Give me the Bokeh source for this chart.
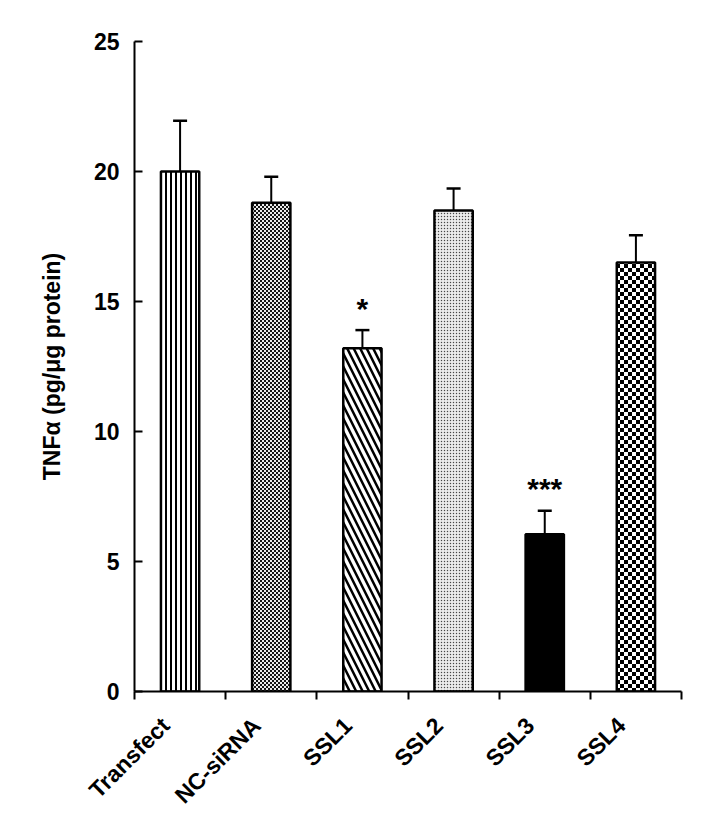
import base64, struct, zlib
from math import pi
from bokeh.plotting import figure
from bokeh.models import (ColumnDataSource, Range1d, FixedTicker, Whisker, TeeHead,
                          ImageURLTexture, LinearAxis)
from bokeh.core.properties import value
from bokeh.embed import file_html
from bokeh.resources import INLINE

# ---------------- data ----------------
categories = ["Transfect", "NC-siRNA", "SSL1", "SSL2", "SSL3", "SSL4"]
means = [20.0, 18.8, 13.2, 18.5, 6.05, 16.5]
sem = [1.95, 1.0, 0.7, 0.85, 0.9, 1.05]
stars = ["", "", "*", "", "***", ""]
y_ticks = [0, 5, 10, 15, 20, 25]

# ---------------- textures ----------------
def png_url(rows):
    h = len(rows); w = len(rows[0])
    raw = b"".join(b"\x00" + bytes(r) for r in rows)
    def chunk(t, d):
        c = struct.pack(">I", len(d)) + t + d
        return c + struct.pack(">I", zlib.crc32(t + d) & 0xffffffff)
    png = (b"\x89PNG\r\n\x1a\n" + chunk(b"IHDR", struct.pack(">IIBBBBB", w, h, 8, 0, 0, 0, 0))
           + chunk(b"IDAT", zlib.compress(raw)) + chunk(b"IEND", b""))
    return "data:image/png;base64," + base64.b64encode(png).decode()

def checker(n, dark=0, light=255):
    return [[dark if ((x // n) + (y // n)) % 2 == 0 else light for x in range(2 * n)] for y in range(2 * n)]

tex_fine = ImageURLTexture(url=png_url(checker(2, 20, 235)), repetition="repeat")
tex_big = ImageURLTexture(url=png_url(checker(4, 0, 255)), repetition="repeat")
tex_dots = ImageURLTexture(url=png_url([[70, 215, 215], [215, 235, 235], [215, 235, 235]]), repetition="repeat")
tex_vert = ImageURLTexture(url=png_url([[0, 0, 255, 255, 255]]), repetition="repeat")

patterns = ["vert", "fine", "left_diagonal_line", "dots", " ", "big"]
fills = ["white", "white", "white", "white", "black", "white"]

x = [i + 0.5 for i in range(len(categories))]
upper = [m + s for m, s in zip(means, sem)]
src = ColumnDataSource(dict(x=x, top=means, upper=upper, pat=patterns, fill=fills,
                            star=stars))

p = figure(width=702, height=820, output_backend="svg", toolbar_location=None,
           x_range=Range1d(0, 6), y_range=Range1d(0, 25),
           min_border_left=134, min_border_right=21, min_border_top=41, min_border_bottom=128,
           x_axis_type=None, y_axis_type=None)
p.outline_line_color = None
p.xgrid.visible = False
p.ygrid.visible = False

p.vbar(x="x", top="top", bottom=0, width=0.42, source=src,
       fill_color="fill", line_color="black", line_width=2.5,
       hatch_pattern="pat", hatch_color="black", hatch_scale=13, hatch_weight=2.5,
       hatch_extra={"vert": tex_vert, "fine": tex_fine, "big": tex_big, "dots": tex_dots})

p.add_layout(Whisker(base="x", lower="top", upper="upper", source=src,
                     line_color="black", line_width=2,
                     upper_head=TeeHead(size=14, line_width=2.5, line_color="black"),
                     lower_head=None))

p.text(x="x", y="upper", text="star", source=src, text_align="center",
       text_baseline="middle", y_offset=-22, text_font=value("Liberation Sans"),
       text_font_style="bold", text_font_size="30px", text_color="black")

font = "Liberation Sans"

# y axis
ya = LinearAxis(ticker=FixedTicker(ticks=y_ticks))
ya.axis_label = "TNF\u03b1 (pg/\u03bcg protein)"
ya.axis_label_text_font = font
ya.axis_label_text_font_style = "bold"
ya.axis_label_text_font_size = "23px"
ya.axis_label_text_color = "black"
ya.axis_label_standoff = 26
ya.major_label_text_font = font
ya.major_label_text_font_style = "bold"
ya.major_label_text_font_size = "23px"
ya.major_label_text_color = "black"
ya.major_label_standoff = 15
ya.major_tick_in = 8
ya.major_tick_out = 0
ya.minor_tick_line_color = None
ya.axis_line_width = 2
ya.major_tick_line_width = 2
p.add_layout(ya, "left")

# x axis: ticks at category boundaries, labels just left of the bar centres
label_pos = [xi - 0.16 for xi in x]
xa = LinearAxis(ticker=FixedTicker(ticks=label_pos, minor_ticks=list(range(len(categories) + 1))))
xa.major_label_overrides = {xi: c for xi, c in zip(label_pos, categories)}
xa.major_label_orientation = pi / 4
xa.major_label_text_font = font
xa.major_label_text_font_style = "bold"
xa.major_label_text_font_size = "23px"
xa.major_label_text_color = "black"
xa.major_label_standoff = 22
xa.major_tick_in = 0
xa.major_tick_out = 0
xa.minor_tick_in = 0
xa.minor_tick_out = 8
xa.minor_tick_line_width = 2
xa.axis_line_width = 2
p.add_layout(xa, "below")

open("out.html", "w").write(file_html(p, INLINE))
